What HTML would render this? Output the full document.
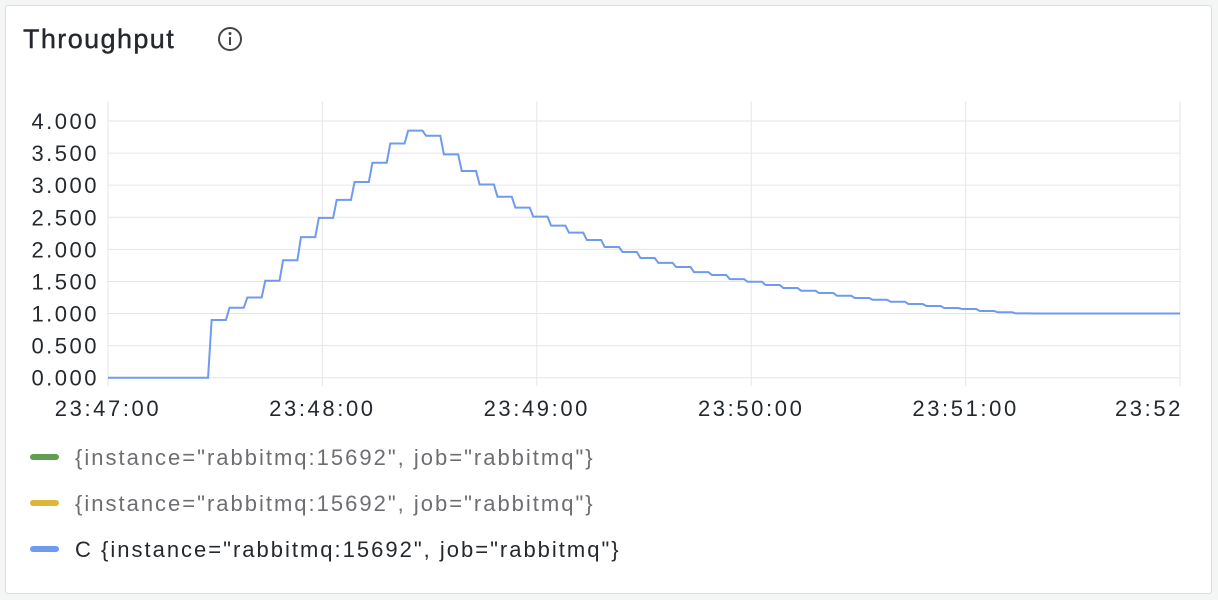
<!DOCTYPE html>
<html><head><meta charset="utf-8"><style>
body{margin:0;width:1218px;height:600px;background:#f4f5f5;font-family:"Liberation Sans",sans-serif;overflow:hidden}
#panel{position:absolute;left:5px;top:5px;width:1207px;height:589px;background:#fff;border:1px solid #dcdde0;border-radius:3px;box-sizing:border-box}
</style></head><body>
<div id="panel"></div>
<svg width="1218" height="600" style="position:absolute;left:0;top:0">
<text x="23" y="48" font-size="27" letter-spacing="1.4" fill="#24292e" stroke="#24292e" stroke-width="0.4">Throughput</text>
<g><circle cx="230" cy="39" r="11" fill="none" stroke="#444" stroke-width="2"/><circle cx="230" cy="33.5" r="1.5" fill="#444"/><rect x="229" y="37" width="2" height="8" fill="#444"/></g>
<g id="grid"></g><g id="yl"></g><g id="xl"></g>
<path id="line" fill="none" stroke="#6e9bef" stroke-width="2"/>
<g font-size="22" letter-spacing="2">
<g><line x1="33" y1="457" x2="56" y2="457" stroke="#629e51" stroke-width="6" stroke-linecap="round"/><text x="75" y="465" fill="#6e6e72">{instance="rabbitmq:15692", job="rabbitmq"}</text></g>
<g><line x1="33" y1="503" x2="56" y2="503" stroke="#dcb63a" stroke-width="6" stroke-linecap="round"/><text x="75" y="511" fill="#6e6e72">{instance="rabbitmq:15692", job="rabbitmq"}</text></g>
<g><line x1="33" y1="549" x2="56" y2="549" stroke="#6e9bef" stroke-width="6" stroke-linecap="round"/><text x="75" y="557" fill="#24292e">C {instance="rabbitmq:15692", job="rabbitmq"}</text></g>
</g>
</svg>
<script>
const yTicks=[0,0.5,1,1.5,2,2.5,3,3.5,4];
const xTickSec=[0,60,120,180,240,300];
const xTickLabels=["23:47:00","23:48:00","23:49:00","23:50:00","23:51:00","23:52"];
const startSec=4, stepSec=5;
const values=[0,0,0,0,0,0.9,1.09,1.25,1.51,1.83,2.19,2.49,2.77,3.05,3.35,3.65,3.85,3.77,3.48,3.22,3.01,2.82,2.65,2.51,2.37,2.26,2.145,2.036,1.958,1.865,1.79,1.724,1.646,1.60,1.537,1.495,1.444,1.397,1.355,1.319,1.277,1.241,1.215,1.184,1.148,1.117,1.086,1.07,1.039,1.019,1.003,1.0,1.0,1.0,1.0,1.0,1.0,1.0,1.0,1.0];
const X0=108,X1=1180,Y0=377.7,Y1=121;
const xs=s=>X0+(X1-X0)*Math.min(s,300)/300, ys=v=>Y0-(Y0-Y1)*v/4;
const NS='http://www.w3.org/2000/svg';
const grid=document.getElementById('grid'),yl=document.getElementById('yl'),xl=document.getElementById('xl');
yTicks.forEach(v=>{
 const l=document.createElementNS(NS,'line');
 
 
 l.setAttribute('x1',X0);l.setAttribute('x2',X1);l.setAttribute('y1',ys(v));l.setAttribute('y2',ys(v));l.setAttribute('stroke','#e6e6e6');grid.appendChild(l);
 const t=document.createElementNS(NS,'text');
 
 
 t.setAttribute('x',99);t.setAttribute('y',ys(v)+8);t.setAttribute('text-anchor','end');t.setAttribute('font-size','22');t.setAttribute('letter-spacing','2.5');t.setAttribute('fill','#24292e');t.textContent=v.toFixed(3);yl.appendChild(t);
});
xTickSec.forEach((s,i)=>{
 const l=document.createElementNS(NS,'line');
 
 
 l.setAttribute('x1',xs(s));l.setAttribute('x2',xs(s));l.setAttribute('y1',101);l.setAttribute('y2',386);l.setAttribute('stroke','#e6e6e6');grid.appendChild(l);
 const t=document.createElementNS(NS,'text');
 
 
 t.setAttribute('x',i==xTickSec.length-1?xs(s)+3:xs(s));t.setAttribute('y',416);t.setAttribute('text-anchor',i==xTickSec.length-1?'end':'middle');t.setAttribute('font-size','22');t.setAttribute('letter-spacing','2.6');t.setAttribute('fill','#24292e');t.textContent=xTickLabels[i];xl.appendChild(t);
});
let d='M'+xs(0)+','+ys(values[0]);
values.forEach((v,k)=>{const t=startSec+k*stepSec;d+=' L'+xs(t)+','+ys(v);d+=' L'+xs(t+4)+','+ys(v);});
document.getElementById('line').setAttribute('d',d);
</script>
</body></html>
